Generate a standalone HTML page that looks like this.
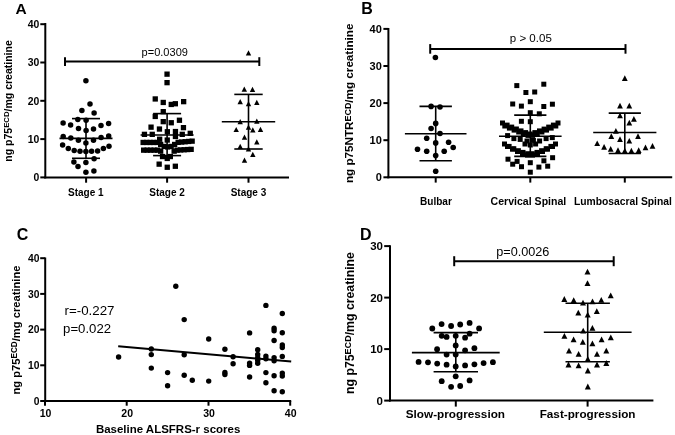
<!DOCTYPE html>
<html><head><meta charset="utf-8"><style>
html,body{margin:0;padding:0;background:#fff;}
body{width:675px;height:435px;overflow:hidden;}
svg{display:block;filter:grayscale(1);}
text{font-family:"Liberation Sans",sans-serif;fill:#000;}
</style></head><body>
<svg width="675" height="435" viewBox="0 0 675 435" fill="#000">
<text x="15.6" y="14.3" font-size="15.5" font-weight="bold" text-anchor="start">A</text>
<line x1="45.3" y1="23.0" x2="45.3" y2="178.4" stroke="#000" stroke-width="2"/>
<line x1="44.3" y1="177.4" x2="289.0" y2="177.4" stroke="#000" stroke-width="2"/>
<line x1="40.3" y1="177.4" x2="45.3" y2="177.4" stroke="#000" stroke-width="2"/>
<text x="39.4" y="181.2" font-size="10.4" font-weight="bold" text-anchor="end">0</text>
<line x1="40.3" y1="139.1" x2="45.3" y2="139.1" stroke="#000" stroke-width="2"/>
<text x="39.4" y="142.9" font-size="10.4" font-weight="bold" text-anchor="end">10</text>
<line x1="40.3" y1="100.8" x2="45.3" y2="100.8" stroke="#000" stroke-width="2"/>
<text x="39.4" y="104.6" font-size="10.4" font-weight="bold" text-anchor="end">20</text>
<line x1="40.3" y1="62.5" x2="45.3" y2="62.5" stroke="#000" stroke-width="2"/>
<text x="39.4" y="66.3" font-size="10.4" font-weight="bold" text-anchor="end">30</text>
<line x1="40.3" y1="24.2" x2="45.3" y2="24.2" stroke="#000" stroke-width="2"/>
<text x="39.4" y="28.0" font-size="10.4" font-weight="bold" text-anchor="end">40</text>
<line x1="86.1" y1="177.4" x2="86.1" y2="182.7" stroke="#000" stroke-width="2"/>
<line x1="167.1" y1="177.4" x2="167.1" y2="182.7" stroke="#000" stroke-width="2"/>
<line x1="248.5" y1="177.4" x2="248.5" y2="182.7" stroke="#000" stroke-width="2"/>
<text x="85.8" y="195.6" font-size="10" font-weight="bold" text-anchor="middle">Stage 1</text>
<text x="167.1" y="195.6" font-size="10" font-weight="bold" text-anchor="middle">Stage 2</text>
<text x="248.5" y="195.6" font-size="10" font-weight="bold" text-anchor="middle">Stage 3</text>
<text transform="translate(12.2,161.7) rotate(-90)" x="0" y="0" font-size="10.6" font-weight="bold" textLength="121.5" lengthAdjust="spacingAndGlyphs">ng p75<tspan font-size="7.8" dy="-2.8">ECD</tspan><tspan dy="2.8">/mg creatinine</tspan></text>
<line x1="65.0" y1="61.6" x2="259.3" y2="61.6" stroke="#000" stroke-width="2"/>
<line x1="65.0" y1="57.2" x2="65.0" y2="66.0" stroke="#000" stroke-width="2"/>
<line x1="259.3" y1="57.2" x2="259.3" y2="66.0" stroke="#000" stroke-width="2"/>
<text x="141.6" y="55.7" font-size="11" text-anchor="start" textLength="46.3" lengthAdjust="spacingAndGlyphs">p=0.0309</text>
<circle cx="85.9" cy="80.7" r="2.75"/>
<circle cx="90.0" cy="104.0" r="2.75"/>
<circle cx="81.9" cy="110.5" r="2.75"/>
<circle cx="94.1" cy="113.0" r="2.75"/>
<circle cx="77.8" cy="119.4" r="2.75"/>
<circle cx="86.1" cy="120.3" r="2.75"/>
<circle cx="63.1" cy="123.1" r="2.75"/>
<circle cx="70.6" cy="124.9" r="2.75"/>
<circle cx="101.0" cy="125.4" r="2.75"/>
<circle cx="108.6" cy="123.5" r="2.75"/>
<circle cx="78.5" cy="128.6" r="2.75"/>
<circle cx="86.1" cy="130.4" r="2.75"/>
<circle cx="93.5" cy="128.9" r="2.75"/>
<circle cx="63.2" cy="136.6" r="2.75"/>
<circle cx="70.8" cy="138.0" r="2.75"/>
<circle cx="78.4" cy="140.2" r="2.75"/>
<circle cx="85.9" cy="143.1" r="2.75"/>
<circle cx="93.5" cy="140.2" r="2.75"/>
<circle cx="101.1" cy="137.6" r="2.75"/>
<circle cx="108.7" cy="136.1" r="2.75"/>
<circle cx="62.6" cy="145.0" r="2.75"/>
<circle cx="68.3" cy="148.4" r="2.75"/>
<circle cx="74.2" cy="150.6" r="2.75"/>
<circle cx="80.0" cy="151.3" r="2.75"/>
<circle cx="85.9" cy="151.5" r="2.75"/>
<circle cx="91.6" cy="151.3" r="2.75"/>
<circle cx="97.6" cy="150.9" r="2.75"/>
<circle cx="103.4" cy="148.4" r="2.75"/>
<circle cx="109.0" cy="146.2" r="2.75"/>
<circle cx="94.1" cy="158.8" r="2.75"/>
<circle cx="73.9" cy="161.9" r="2.75"/>
<circle cx="85.9" cy="162.5" r="2.75"/>
<circle cx="78.0" cy="166.4" r="2.75"/>
<circle cx="85.9" cy="172.3" r="2.75"/>
<circle cx="93.9" cy="171.1" r="2.75"/>
<line x1="86.0" y1="118.6" x2="86.0" y2="158.3" stroke="#000" stroke-width="1.6"/>
<line x1="72.0" y1="118.6" x2="100.0" y2="118.6" stroke="#000" stroke-width="1.6"/>
<line x1="72.0" y1="158.3" x2="100.0" y2="158.3" stroke="#000" stroke-width="1.6"/>
<line x1="59.5" y1="138.4" x2="112.5" y2="138.4" stroke="#000" stroke-width="1.6"/>
<rect x="164.4" y="71.5" width="5.3" height="5.3"/>
<rect x="164.4" y="80.0" width="5.3" height="5.3"/>
<rect x="152.6" y="96.3" width="5.3" height="5.3"/>
<rect x="160.6" y="99.8" width="5.3" height="5.3"/>
<rect x="168.6" y="101.8" width="5.3" height="5.3"/>
<rect x="172.7" y="101.1" width="5.3" height="5.3"/>
<rect x="181.0" y="99.0" width="5.3" height="5.3"/>
<rect x="160.6" y="109.0" width="5.3" height="5.3"/>
<rect x="152.6" y="113.8" width="5.3" height="5.3"/>
<rect x="160.6" y="119.0" width="5.3" height="5.3"/>
<rect x="168.6" y="120.1" width="5.3" height="5.3"/>
<rect x="176.8" y="117.6" width="5.3" height="5.3"/>
<rect x="148.4" y="124.5" width="5.3" height="5.3"/>
<rect x="156.8" y="126.4" width="5.3" height="5.3"/>
<rect x="180.8" y="125.0" width="5.3" height="5.3"/>
<rect x="164.7" y="129.1" width="5.3" height="5.3"/>
<rect x="172.8" y="128.9" width="5.3" height="5.3"/>
<rect x="172.8" y="133.8" width="5.3" height="5.3"/>
<rect x="141.8" y="131.7" width="5.3" height="5.3"/>
<rect x="149.6" y="131.7" width="5.3" height="5.3"/>
<rect x="179.6" y="131.7" width="5.3" height="5.3"/>
<rect x="187.6" y="130.7" width="5.3" height="5.3"/>
<rect x="157.0" y="136.6" width="5.3" height="5.3"/>
<rect x="164.6" y="137.4" width="5.3" height="5.3"/>
<rect x="140.5" y="139.8" width="5.3" height="5.3"/>
<rect x="144.0" y="139.8" width="5.3" height="5.3"/>
<rect x="147.5" y="139.8" width="5.3" height="5.3"/>
<rect x="151.0" y="139.8" width="5.3" height="5.3"/>
<rect x="154.5" y="139.8" width="5.3" height="5.3"/>
<rect x="158.0" y="141.8" width="5.3" height="5.3"/>
<rect x="161.5" y="143.8" width="5.3" height="5.3"/>
<rect x="165.0" y="144.3" width="5.3" height="5.3"/>
<rect x="168.5" y="143.8" width="5.3" height="5.3"/>
<rect x="172.0" y="141.8" width="5.3" height="5.3"/>
<rect x="175.5" y="139.7" width="5.3" height="5.3"/>
<rect x="179.0" y="139.4" width="5.3" height="5.3"/>
<rect x="182.5" y="139.1" width="5.3" height="5.3"/>
<rect x="186.0" y="138.8" width="5.3" height="5.3"/>
<rect x="189.5" y="138.5" width="5.3" height="5.3"/>
<rect x="141.0" y="147.5" width="5.3" height="5.3"/>
<rect x="144.5" y="147.5" width="5.3" height="5.3"/>
<rect x="148.0" y="147.5" width="5.3" height="5.3"/>
<rect x="151.5" y="147.5" width="5.3" height="5.3"/>
<rect x="155.0" y="147.5" width="5.3" height="5.3"/>
<rect x="158.0" y="148.5" width="5.3" height="5.3"/>
<rect x="171.5" y="148.5" width="5.3" height="5.3"/>
<rect x="174.5" y="147.5" width="5.3" height="5.3"/>
<rect x="178.0" y="147.3" width="5.3" height="5.3"/>
<rect x="181.5" y="147.1" width="5.3" height="5.3"/>
<rect x="185.0" y="146.9" width="5.3" height="5.3"/>
<rect x="188.5" y="146.7" width="5.3" height="5.3"/>
<rect x="159.9" y="153.9" width="5.3" height="5.3"/>
<rect x="167.7" y="153.9" width="5.3" height="5.3"/>
<rect x="164.6" y="155.8" width="5.3" height="5.3"/>
<rect x="156.5" y="161.5" width="5.3" height="5.3"/>
<rect x="164.6" y="164.6" width="5.3" height="5.3"/>
<rect x="172.7" y="163.6" width="5.3" height="5.3"/>
<line x1="167.1" y1="113.6" x2="167.1" y2="155.6" stroke="#000" stroke-width="1.6"/>
<line x1="153.1" y1="113.6" x2="181.1" y2="113.6" stroke="#000" stroke-width="1.6"/>
<line x1="153.1" y1="155.6" x2="181.1" y2="155.6" stroke="#000" stroke-width="1.6"/>
<line x1="140.6" y1="135.0" x2="193.6" y2="135.0" stroke="#000" stroke-width="1.6"/>
<path d="M248.5 50.3L251.2 55.5L245.8 55.5Z"/>
<path d="M244.3 86.5L247.0 91.7L241.6 91.7Z"/>
<path d="M252.5 86.8L255.2 92.0L249.8 92.0Z"/>
<path d="M240.2 99.1L242.9 104.3L237.5 104.3Z"/>
<path d="M256.8 99.7L259.5 104.9L254.1 104.9Z"/>
<path d="M248.5 101.1L251.2 106.3L245.8 106.3Z"/>
<path d="M240.2 119.0L242.9 124.2L237.5 124.2Z"/>
<path d="M256.8 118.6L259.5 123.8L254.1 123.8Z"/>
<path d="M248.5 124.5L251.2 129.7L245.8 129.7Z"/>
<path d="M236.2 126.9L238.9 132.1L233.5 132.1Z"/>
<path d="M252.8 127.3L255.5 132.5L250.1 132.5Z"/>
<path d="M260.5 126.7L263.2 131.9L257.8 131.9Z"/>
<path d="M244.5 134.6L247.2 139.8L241.8 139.8Z"/>
<path d="M256.8 139.2L259.5 144.4L254.1 144.4Z"/>
<path d="M240.2 143.8L242.9 149.0L237.5 149.0Z"/>
<path d="M248.5 146.2L251.2 151.4L245.8 151.4Z"/>
<path d="M252.8 151.7L255.5 156.9L250.1 156.9Z"/>
<path d="M244.5 157.6L247.2 162.8L241.8 162.8Z"/>
<line x1="248.5" y1="94.4" x2="248.5" y2="149.0" stroke="#000" stroke-width="1.6"/>
<line x1="234.3" y1="94.4" x2="262.7" y2="94.4" stroke="#000" stroke-width="1.6"/>
<line x1="234.3" y1="149.0" x2="262.7" y2="149.0" stroke="#000" stroke-width="1.6"/>
<line x1="221.8" y1="121.7" x2="275.2" y2="121.7" stroke="#000" stroke-width="1.6"/>
<text x="361.3" y="13.6" font-size="16" font-weight="bold" text-anchor="start">B</text>
<line x1="388.4" y1="28.0" x2="388.4" y2="178.3" stroke="#000" stroke-width="2"/>
<line x1="387.4" y1="177.3" x2="672.2" y2="177.3" stroke="#000" stroke-width="2"/>
<line x1="383.4" y1="177.3" x2="388.4" y2="177.3" stroke="#000" stroke-width="2"/>
<text x="381.8" y="181.4" font-size="11" font-weight="bold" text-anchor="end">0</text>
<line x1="383.4" y1="140.2" x2="388.4" y2="140.2" stroke="#000" stroke-width="2"/>
<text x="381.8" y="144.3" font-size="11" font-weight="bold" text-anchor="end">10</text>
<line x1="383.4" y1="103.1" x2="388.4" y2="103.1" stroke="#000" stroke-width="2"/>
<text x="381.8" y="107.2" font-size="11" font-weight="bold" text-anchor="end">20</text>
<line x1="383.4" y1="66.0" x2="388.4" y2="66.0" stroke="#000" stroke-width="2"/>
<text x="381.8" y="70.1" font-size="11" font-weight="bold" text-anchor="end">30</text>
<line x1="383.4" y1="28.9" x2="388.4" y2="28.9" stroke="#000" stroke-width="2"/>
<text x="381.8" y="33.0" font-size="11" font-weight="bold" text-anchor="end">40</text>
<line x1="435.7" y1="177.3" x2="435.7" y2="182.6" stroke="#000" stroke-width="2"/>
<line x1="530.3" y1="177.3" x2="530.3" y2="182.6" stroke="#000" stroke-width="2"/>
<line x1="624.8" y1="177.3" x2="624.8" y2="182.6" stroke="#000" stroke-width="2"/>
<text x="420.0" y="204.9" font-size="10" font-weight="bold" text-anchor="start" textLength="31.8" lengthAdjust="spacingAndGlyphs">Bulbar</text>
<text x="490.6" y="205.1" font-size="10.4" font-weight="bold" text-anchor="start" textLength="75.7" lengthAdjust="spacingAndGlyphs">Cervical Spinal</text>
<text x="573.9" y="205.0" font-size="10.3" font-weight="bold" text-anchor="start" textLength="98" lengthAdjust="spacingAndGlyphs">Lumbosacral Spinal</text>
<text transform="translate(353.4,183.1) rotate(-90)" x="0" y="0" font-size="11.5" font-weight="bold" textLength="159.6" lengthAdjust="spacingAndGlyphs">ng p75NTR<tspan font-size="8.8" dy="-2.9">ECD</tspan><tspan dy="2.9">/mg creatinine</tspan></text>
<line x1="430.2" y1="48.9" x2="625.5" y2="48.9" stroke="#000" stroke-width="2"/>
<line x1="430.2" y1="44.1" x2="430.2" y2="53.7" stroke="#000" stroke-width="2"/>
<line x1="625.5" y1="44.1" x2="625.5" y2="53.7" stroke="#000" stroke-width="2"/>
<text x="509.8" y="41.6" font-size="11.5" text-anchor="start" textLength="42" lengthAdjust="spacingAndGlyphs">p &gt; 0.05</text>
<circle cx="435.4" cy="57.5" r="2.8"/>
<circle cx="431.1" cy="106.4" r="2.8"/>
<circle cx="440.0" cy="107.0" r="2.8"/>
<circle cx="435.7" cy="123.4" r="2.8"/>
<circle cx="431.1" cy="128.5" r="2.8"/>
<circle cx="440.0" cy="133.5" r="2.8"/>
<circle cx="426.7" cy="138.3" r="2.8"/>
<circle cx="435.7" cy="142.9" r="2.8"/>
<circle cx="448.6" cy="142.3" r="2.8"/>
<circle cx="453.2" cy="147.5" r="2.8"/>
<circle cx="417.5" cy="149.2" r="2.8"/>
<circle cx="426.7" cy="151.2" r="2.8"/>
<circle cx="444.2" cy="151.2" r="2.8"/>
<circle cx="435.7" cy="155.6" r="2.8"/>
<circle cx="435.7" cy="171.3" r="2.8"/>
<line x1="435.7" y1="106.4" x2="435.7" y2="160.8" stroke="#000" stroke-width="1.6"/>
<line x1="419.5" y1="106.4" x2="451.9" y2="106.4" stroke="#000" stroke-width="1.6"/>
<line x1="419.5" y1="160.8" x2="451.9" y2="160.8" stroke="#000" stroke-width="1.6"/>
<line x1="404.9" y1="133.7" x2="466.5" y2="133.7" stroke="#000" stroke-width="1.6"/>
<rect x="514.3" y="83.1" width="5.0" height="5.0"/>
<rect x="541.3" y="81.7" width="5.0" height="5.0"/>
<rect x="523.4" y="90.0" width="5.0" height="5.0"/>
<rect x="532.2" y="89.5" width="5.0" height="5.0"/>
<rect x="527.8" y="99.2" width="5.0" height="5.0"/>
<rect x="510.2" y="101.5" width="5.0" height="5.0"/>
<rect x="518.9" y="103.6" width="5.0" height="5.0"/>
<rect x="541.3" y="104.0" width="5.0" height="5.0"/>
<rect x="549.9" y="101.7" width="5.0" height="5.0"/>
<rect x="527.8" y="110.2" width="5.0" height="5.0"/>
<rect x="536.8" y="111.3" width="5.0" height="5.0"/>
<rect x="518.9" y="118.8" width="5.0" height="5.0"/>
<rect x="527.8" y="119.2" width="5.0" height="5.0"/>
<rect x="500.0" y="120.5" width="5.0" height="5.0"/>
<rect x="504.6" y="122.6" width="5.0" height="5.0"/>
<rect x="509.2" y="124.6" width="5.0" height="5.0"/>
<rect x="513.9" y="126.5" width="5.0" height="5.0"/>
<rect x="518.5" y="128.4" width="5.0" height="5.0"/>
<rect x="523.1" y="130.1" width="5.0" height="5.0"/>
<rect x="527.8" y="131.5" width="5.0" height="5.0"/>
<rect x="532.4" y="130.1" width="5.0" height="5.0"/>
<rect x="537.0" y="128.4" width="5.0" height="5.0"/>
<rect x="541.6" y="126.6" width="5.0" height="5.0"/>
<rect x="546.2" y="124.6" width="5.0" height="5.0"/>
<rect x="550.9" y="122.6" width="5.0" height="5.0"/>
<rect x="555.5" y="120.5" width="5.0" height="5.0"/>
<rect x="502.3" y="123.5" width="5.0" height="5.0"/>
<rect x="506.9" y="125.6" width="5.0" height="5.0"/>
<rect x="511.6" y="127.6" width="5.0" height="5.0"/>
<rect x="516.2" y="129.5" width="5.0" height="5.0"/>
<rect x="520.8" y="131.3" width="5.0" height="5.0"/>
<rect x="525.5" y="132.9" width="5.0" height="5.0"/>
<rect x="530.1" y="132.9" width="5.0" height="5.0"/>
<rect x="534.8" y="131.3" width="5.0" height="5.0"/>
<rect x="539.4" y="129.5" width="5.0" height="5.0"/>
<rect x="544.0" y="127.6" width="5.0" height="5.0"/>
<rect x="548.7" y="125.6" width="5.0" height="5.0"/>
<rect x="553.3" y="123.5" width="5.0" height="5.0"/>
<rect x="505.1" y="133.1" width="5.0" height="5.0"/>
<rect x="511.4" y="136.1" width="5.0" height="5.0"/>
<rect x="517.7" y="136.9" width="5.0" height="5.0"/>
<rect x="524.5" y="138.5" width="5.0" height="5.0"/>
<rect x="530.9" y="137.9" width="5.0" height="5.0"/>
<rect x="537.1" y="138.5" width="5.0" height="5.0"/>
<rect x="543.6" y="136.1" width="5.0" height="5.0"/>
<rect x="549.8" y="135.1" width="5.0" height="5.0"/>
<rect x="522.5" y="141.5" width="5.0" height="5.0"/>
<rect x="527.8" y="142.5" width="5.0" height="5.0"/>
<rect x="533.1" y="141.5" width="5.0" height="5.0"/>
<rect x="502.0" y="141.5" width="5.0" height="5.0"/>
<rect x="506.6" y="143.9" width="5.0" height="5.0"/>
<rect x="511.3" y="146.2" width="5.0" height="5.0"/>
<rect x="515.9" y="148.2" width="5.0" height="5.0"/>
<rect x="520.5" y="149.9" width="5.0" height="5.0"/>
<rect x="525.2" y="151.2" width="5.0" height="5.0"/>
<rect x="529.8" y="151.2" width="5.0" height="5.0"/>
<rect x="534.5" y="149.9" width="5.0" height="5.0"/>
<rect x="539.1" y="148.2" width="5.0" height="5.0"/>
<rect x="543.7" y="146.2" width="5.0" height="5.0"/>
<rect x="548.4" y="143.9" width="5.0" height="5.0"/>
<rect x="553.0" y="141.5" width="5.0" height="5.0"/>
<rect x="505.0" y="144.0" width="5.0" height="5.0"/>
<rect x="510.0" y="146.7" width="5.0" height="5.0"/>
<rect x="515.0" y="149.0" width="5.0" height="5.0"/>
<rect x="520.0" y="151.1" width="5.0" height="5.0"/>
<rect x="525.0" y="152.6" width="5.0" height="5.0"/>
<rect x="530.0" y="152.6" width="5.0" height="5.0"/>
<rect x="535.0" y="151.1" width="5.0" height="5.0"/>
<rect x="540.0" y="149.0" width="5.0" height="5.0"/>
<rect x="545.0" y="146.7" width="5.0" height="5.0"/>
<rect x="550.0" y="144.0" width="5.0" height="5.0"/>
<rect x="505.5" y="156.7" width="5.0" height="5.0"/>
<rect x="514.6" y="158.9" width="5.0" height="5.0"/>
<rect x="510.2" y="161.7" width="5.0" height="5.0"/>
<rect x="519.0" y="164.2" width="5.0" height="5.0"/>
<rect x="527.8" y="160.2" width="5.0" height="5.0"/>
<rect x="536.4" y="164.6" width="5.0" height="5.0"/>
<rect x="541.4" y="158.3" width="5.0" height="5.0"/>
<rect x="545.2" y="163.7" width="5.0" height="5.0"/>
<rect x="550.1" y="155.2" width="5.0" height="5.0"/>
<rect x="527.8" y="169.7" width="5.0" height="5.0"/>
<line x1="530.3" y1="115.1" x2="530.3" y2="156.4" stroke="#000" stroke-width="1.6"/>
<line x1="514.2" y1="115.1" x2="546.4" y2="115.1" stroke="#000" stroke-width="1.6"/>
<line x1="514.2" y1="156.4" x2="546.4" y2="156.4" stroke="#000" stroke-width="1.6"/>
<line x1="499.0" y1="136.2" x2="561.6" y2="136.2" stroke="#000" stroke-width="1.6"/>
<path d="M624.8 75.2L627.7 80.9L621.9 80.9Z"/>
<path d="M620.0 102.7L622.9 108.4L617.1 108.4Z"/>
<path d="M629.3 102.7L632.2 108.4L626.4 108.4Z"/>
<path d="M620.0 112.5L622.9 118.2L617.1 118.2Z"/>
<path d="M633.9 116.0L636.8 121.7L631.0 121.7Z"/>
<path d="M629.3 119.7L632.2 125.4L626.4 125.4Z"/>
<path d="M615.9 128.0L618.8 133.7L613.0 133.7Z"/>
<path d="M611.3 133.2L614.2 138.9L608.4 138.9Z"/>
<path d="M638.0 133.2L640.9 138.9L635.1 138.9Z"/>
<path d="M620.0 136.3L622.9 142.0L617.1 142.0Z"/>
<path d="M629.3 137.9L632.2 143.6L626.4 143.6Z"/>
<path d="M597.2 140.4L600.1 146.1L594.3 146.1Z"/>
<path d="M604.1 144.1L607.0 149.8L601.2 149.8Z"/>
<path d="M610.7 146.0L613.6 151.7L607.8 151.7Z"/>
<path d="M618.0 147.2L620.9 152.9L615.1 152.9Z"/>
<path d="M624.8 147.7L627.7 153.4L621.9 153.4Z"/>
<path d="M631.4 147.7L634.3 153.4L628.5 153.4Z"/>
<path d="M638.7 147.2L641.6 152.9L635.8 152.9Z"/>
<path d="M645.5 144.6L648.4 150.3L642.6 150.3Z"/>
<path d="M652.5 143.1L655.4 148.8L649.6 148.8Z"/>
<line x1="624.8" y1="113.1" x2="624.8" y2="153.5" stroke="#000" stroke-width="1.6"/>
<line x1="608.7" y1="113.1" x2="640.9" y2="113.1" stroke="#000" stroke-width="1.6"/>
<line x1="608.7" y1="153.5" x2="640.9" y2="153.5" stroke="#000" stroke-width="1.6"/>
<line x1="593.2" y1="132.5" x2="656.4" y2="132.5" stroke="#000" stroke-width="1.6"/>
<text x="16.8" y="240.0" font-size="16" font-weight="bold" text-anchor="start">C</text>
<line x1="45.2" y1="257.5" x2="45.2" y2="402.0" stroke="#000" stroke-width="2"/>
<line x1="44.2" y1="401.0" x2="291.2" y2="401.0" stroke="#000" stroke-width="2"/>
<line x1="40.2" y1="401.0" x2="45.2" y2="401.0" stroke="#000" stroke-width="2"/>
<text x="39.5" y="404.8" font-size="10.3" font-weight="bold" text-anchor="end">0</text>
<line x1="40.2" y1="365.3" x2="45.2" y2="365.3" stroke="#000" stroke-width="2"/>
<text x="39.5" y="369.1" font-size="10.3" font-weight="bold" text-anchor="end">10</text>
<line x1="40.2" y1="329.6" x2="45.2" y2="329.6" stroke="#000" stroke-width="2"/>
<text x="39.5" y="333.4" font-size="10.3" font-weight="bold" text-anchor="end">20</text>
<line x1="40.2" y1="293.9" x2="45.2" y2="293.9" stroke="#000" stroke-width="2"/>
<text x="39.5" y="297.7" font-size="10.3" font-weight="bold" text-anchor="end">30</text>
<line x1="40.2" y1="258.2" x2="45.2" y2="258.2" stroke="#000" stroke-width="2"/>
<text x="39.5" y="262.0" font-size="10.3" font-weight="bold" text-anchor="end">40</text>
<line x1="45.0" y1="401.0" x2="45.0" y2="405.7" stroke="#000" stroke-width="2"/>
<text x="45.5" y="416.8" font-size="10.5" font-weight="bold" text-anchor="middle">10</text>
<line x1="126.7" y1="401.0" x2="126.7" y2="405.7" stroke="#000" stroke-width="2"/>
<text x="127.2" y="416.8" font-size="10.5" font-weight="bold" text-anchor="middle">20</text>
<line x1="208.5" y1="401.0" x2="208.5" y2="405.7" stroke="#000" stroke-width="2"/>
<text x="209.0" y="416.8" font-size="10.5" font-weight="bold" text-anchor="middle">30</text>
<line x1="290.2" y1="401.0" x2="290.2" y2="405.7" stroke="#000" stroke-width="2"/>
<text x="290.7" y="416.8" font-size="10.5" font-weight="bold" text-anchor="middle">40</text>
<text x="95.9" y="433.0" font-size="11.8" font-weight="bold" text-anchor="start" textLength="144.4" lengthAdjust="spacingAndGlyphs">Baseline ALSFRS-r scores</text>
<text transform="translate(19.9,394.5) rotate(-90)" x="0" y="0" font-size="11.2" font-weight="bold" textLength="129" lengthAdjust="spacingAndGlyphs">ng p75<tspan font-size="8.2" dy="-3">ECD</tspan><tspan dy="3">/mg creatinine</tspan></text>
<text x="64.5" y="314.9" font-size="13.5" text-anchor="start" textLength="50.0" lengthAdjust="spacingAndGlyphs">r=-0.227</text>
<text x="63.1" y="332.9" font-size="13.5" text-anchor="start" textLength="48.0" lengthAdjust="spacingAndGlyphs">p=0.022</text>
<line x1="118.2" y1="346.2" x2="291.2" y2="361.5" stroke="#000" stroke-width="2"/>
<circle cx="118.6" cy="357.0" r="2.7"/>
<circle cx="151.3" cy="349.0" r="2.7"/>
<circle cx="151.3" cy="354.6" r="2.7"/>
<circle cx="151.3" cy="368.1" r="2.7"/>
<circle cx="167.6" cy="372.6" r="2.7"/>
<circle cx="167.6" cy="385.8" r="2.7"/>
<circle cx="175.8" cy="286.2" r="2.7"/>
<circle cx="184.2" cy="319.6" r="2.7"/>
<circle cx="184.2" cy="354.8" r="2.7"/>
<circle cx="184.2" cy="375.2" r="2.7"/>
<circle cx="192.3" cy="380.3" r="2.7"/>
<circle cx="208.7" cy="339.0" r="2.7"/>
<circle cx="208.7" cy="381.1" r="2.7"/>
<circle cx="224.9" cy="349.2" r="2.7"/>
<circle cx="224.9" cy="372.4" r="2.7"/>
<circle cx="224.9" cy="374.5" r="2.7"/>
<circle cx="233.1" cy="356.7" r="2.7"/>
<circle cx="233.1" cy="363.8" r="2.7"/>
<circle cx="249.6" cy="332.9" r="2.7"/>
<circle cx="249.6" cy="363.1" r="2.7"/>
<circle cx="249.6" cy="365.4" r="2.7"/>
<circle cx="249.6" cy="377.0" r="2.7"/>
<circle cx="257.7" cy="349.8" r="2.7"/>
<circle cx="257.7" cy="354.5" r="2.7"/>
<circle cx="257.7" cy="357.6" r="2.7"/>
<circle cx="257.7" cy="360.2" r="2.7"/>
<circle cx="257.7" cy="363.3" r="2.7"/>
<circle cx="265.9" cy="305.4" r="2.7"/>
<circle cx="265.9" cy="356.1" r="2.7"/>
<circle cx="265.9" cy="358.7" r="2.7"/>
<circle cx="265.9" cy="372.6" r="2.7"/>
<circle cx="265.9" cy="382.7" r="2.7"/>
<circle cx="274.1" cy="328.2" r="2.7"/>
<circle cx="274.1" cy="330.8" r="2.7"/>
<circle cx="274.1" cy="340.5" r="2.7"/>
<circle cx="274.1" cy="357.6" r="2.7"/>
<circle cx="274.1" cy="360.8" r="2.7"/>
<circle cx="274.1" cy="375.7" r="2.7"/>
<circle cx="274.1" cy="390.8" r="2.7"/>
<circle cx="282.3" cy="313.5" r="2.7"/>
<circle cx="282.3" cy="332.8" r="2.7"/>
<circle cx="282.3" cy="344.9" r="2.7"/>
<circle cx="282.3" cy="347.5" r="2.7"/>
<circle cx="282.3" cy="356.4" r="2.7"/>
<circle cx="282.3" cy="373.1" r="2.7"/>
<circle cx="282.3" cy="376.0" r="2.7"/>
<circle cx="282.3" cy="391.8" r="2.7"/>
<text x="360.1" y="240.0" font-size="16" font-weight="bold" text-anchor="start">D</text>
<line x1="390.0" y1="245.2" x2="390.0" y2="401.6" stroke="#000" stroke-width="2"/>
<line x1="389.0" y1="400.6" x2="653.4" y2="400.6" stroke="#000" stroke-width="2"/>
<line x1="384.2" y1="400.6" x2="390.0" y2="400.6" stroke="#000" stroke-width="2"/>
<text x="383.0" y="404.8" font-size="11.5" font-weight="bold" text-anchor="end">0</text>
<line x1="384.2" y1="349.1" x2="390.0" y2="349.1" stroke="#000" stroke-width="2"/>
<text x="383.0" y="353.3" font-size="11.5" font-weight="bold" text-anchor="end">10</text>
<line x1="384.2" y1="297.6" x2="390.0" y2="297.6" stroke="#000" stroke-width="2"/>
<text x="383.0" y="301.8" font-size="11.5" font-weight="bold" text-anchor="end">20</text>
<line x1="384.2" y1="246.1" x2="390.0" y2="246.1" stroke="#000" stroke-width="2"/>
<text x="383.0" y="250.3" font-size="11.5" font-weight="bold" text-anchor="end">30</text>
<line x1="455.8" y1="400.6" x2="455.8" y2="406.6" stroke="#000" stroke-width="2"/>
<line x1="587.6" y1="400.6" x2="587.6" y2="406.6" stroke="#000" stroke-width="2"/>
<text x="455.4" y="417.5" font-size="11.8" font-weight="bold" text-anchor="middle" textLength="99.3" lengthAdjust="spacingAndGlyphs">Slow-progression</text>
<text x="587.6" y="417.5" font-size="11.8" font-weight="bold" text-anchor="middle" textLength="95.8" lengthAdjust="spacingAndGlyphs">Fast-progression</text>
<text transform="translate(354.3,394.0) rotate(-90)" x="0" y="0" font-size="12.2" font-weight="bold" textLength="141.9" lengthAdjust="spacingAndGlyphs">ng p75<tspan font-size="9" dy="-3.3">ECD</tspan><tspan dy="3.3">/mg creatinine</tspan></text>
<line x1="454.2" y1="261.2" x2="613.7" y2="261.2" stroke="#000" stroke-width="2"/>
<line x1="454.2" y1="256.2" x2="454.2" y2="266.2" stroke="#000" stroke-width="2"/>
<line x1="613.7" y1="256.2" x2="613.7" y2="266.2" stroke="#000" stroke-width="2"/>
<text x="496.2" y="255.8" font-size="12.5" text-anchor="start" textLength="53.2" lengthAdjust="spacingAndGlyphs">p=0.0026</text>
<circle cx="441.6" cy="324.1" r="2.9"/>
<circle cx="451.1" cy="326.0" r="2.9"/>
<circle cx="460.2" cy="324.5" r="2.9"/>
<circle cx="469.6" cy="322.9" r="2.9"/>
<circle cx="432.3" cy="328.5" r="2.9"/>
<circle cx="479.1" cy="328.4" r="2.9"/>
<circle cx="441.7" cy="335.8" r="2.9"/>
<circle cx="446.6" cy="336.9" r="2.9"/>
<circle cx="455.7" cy="335.8" r="2.9"/>
<circle cx="465.1" cy="337.7" r="2.9"/>
<circle cx="469.6" cy="333.7" r="2.9"/>
<circle cx="455.7" cy="345.4" r="2.9"/>
<circle cx="437.1" cy="349.2" r="2.9"/>
<circle cx="465.1" cy="350.3" r="2.9"/>
<circle cx="474.4" cy="348.2" r="2.9"/>
<circle cx="446.6" cy="354.6" r="2.9"/>
<circle cx="455.7" cy="354.6" r="2.9"/>
<circle cx="418.6" cy="361.9" r="2.9"/>
<circle cx="428.0" cy="362.3" r="2.9"/>
<circle cx="437.2" cy="363.6" r="2.9"/>
<circle cx="446.6" cy="364.7" r="2.9"/>
<circle cx="455.7" cy="366.4" r="2.9"/>
<circle cx="465.1" cy="365.4" r="2.9"/>
<circle cx="474.4" cy="364.3" r="2.9"/>
<circle cx="483.6" cy="363.1" r="2.9"/>
<circle cx="492.9" cy="362.2" r="2.9"/>
<circle cx="455.7" cy="376.3" r="2.9"/>
<circle cx="441.7" cy="381.2" r="2.9"/>
<circle cx="469.6" cy="380.4" r="2.9"/>
<circle cx="451.1" cy="386.8" r="2.9"/>
<circle cx="460.2" cy="386.0" r="2.9"/>
<line x1="455.8" y1="332.6" x2="455.8" y2="371.8" stroke="#000" stroke-width="1.6"/>
<line x1="433.6" y1="332.6" x2="478.0" y2="332.6" stroke="#000" stroke-width="1.6"/>
<line x1="433.6" y1="371.8" x2="478.0" y2="371.8" stroke="#000" stroke-width="1.6"/>
<line x1="411.9" y1="352.6" x2="499.7" y2="352.6" stroke="#000" stroke-width="1.6"/>
<path d="M587.5 268.7L590.5 274.5L584.5 274.5Z"/>
<path d="M587.5 280.3L590.5 286.1L584.5 286.1Z"/>
<path d="M564.3 296.1L567.3 301.9L561.3 301.9Z"/>
<path d="M573.7 297.2L576.7 303.0L570.7 303.0Z"/>
<path d="M583.0 299.7L586.0 305.5L580.0 305.5Z"/>
<path d="M592.5 298.5L595.5 304.3L589.5 304.3Z"/>
<path d="M601.3 296.9L604.3 302.7L598.3 302.7Z"/>
<path d="M610.7 292.4L613.7 298.2L607.7 298.2Z"/>
<path d="M578.3 309.8L581.3 315.6L575.3 315.6Z"/>
<path d="M596.8 308.2L599.8 314.0L593.8 314.0Z"/>
<path d="M587.7 311.7L590.7 317.5L584.7 317.5Z"/>
<path d="M583.2 327.7L586.2 333.5L580.2 333.5Z"/>
<path d="M592.4 325.0L595.4 330.8L589.4 330.8Z"/>
<path d="M564.4 333.0L567.4 338.8L561.4 338.8Z"/>
<path d="M573.6 336.4L576.6 342.2L570.6 342.2Z"/>
<path d="M582.8 338.9L585.8 344.7L579.8 344.7Z"/>
<path d="M592.4 340.4L595.4 346.2L589.4 346.2Z"/>
<path d="M601.6 336.4L604.6 342.2L598.6 342.2Z"/>
<path d="M610.8 334.5L613.8 340.3L607.8 340.3Z"/>
<path d="M569.0 347.8L572.0 353.6L566.0 353.6Z"/>
<path d="M578.6 350.9L581.6 356.7L575.6 356.7Z"/>
<path d="M597.0 350.9L600.0 356.7L594.0 356.7Z"/>
<path d="M606.3 347.8L609.3 353.6L603.3 353.6Z"/>
<path d="M587.8 356.0L590.8 361.8L584.8 361.8Z"/>
<path d="M568.5 361.6L571.5 367.4L565.5 367.4Z"/>
<path d="M578.6 362.5L581.6 368.3L575.6 368.3Z"/>
<path d="M597.0 361.6L600.0 367.4L594.0 367.4Z"/>
<path d="M606.3 360.1L609.3 365.9L603.3 365.9Z"/>
<path d="M587.8 367.6L590.8 373.4L584.8 373.4Z"/>
<path d="M587.8 383.6L590.8 389.4L584.8 389.4Z"/>
<line x1="587.7" y1="303.3" x2="587.7" y2="361.7" stroke="#000" stroke-width="1.6"/>
<line x1="565.5" y1="303.3" x2="609.9" y2="303.3" stroke="#000" stroke-width="1.6"/>
<line x1="565.5" y1="361.7" x2="609.9" y2="361.7" stroke="#000" stroke-width="1.6"/>
<line x1="543.8" y1="332.3" x2="631.6" y2="332.3" stroke="#000" stroke-width="1.6"/>
</svg>
</body></html>
